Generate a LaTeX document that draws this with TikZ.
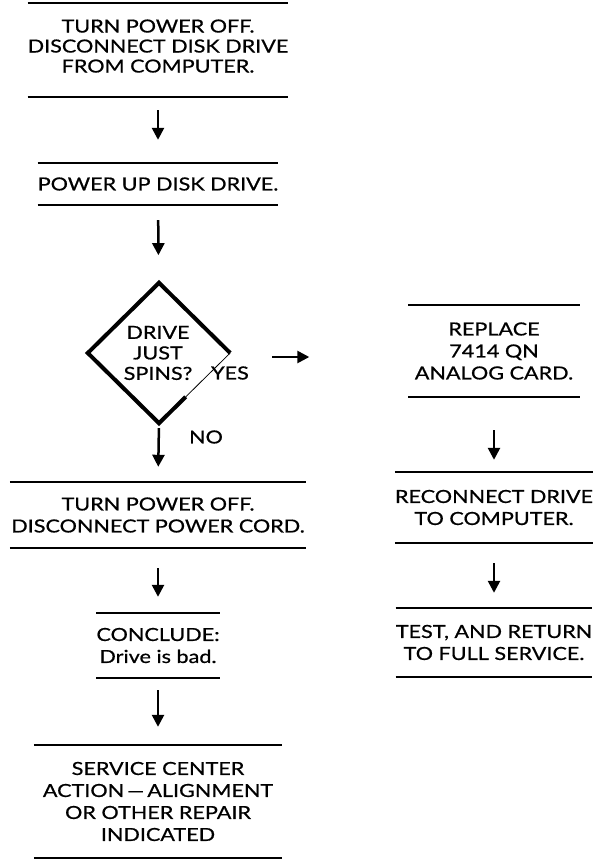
\documentclass[tikz,border=0pt]{standalone}
\usepackage{fontspec}
\setmainfont{Lato}[FakeStretch=1.2, FakeBold=0.7]
\usetikzlibrary{arrows.meta,shapes.geometric,calc}
\begin{document}
\begin{tikzpicture}[x=1pt,y=-1pt,
  every node/.style={font=\fontsize{18}{22}\selectfont, inner sep=0pt},
  stepbox/.style={rectangle, minimum width=#1, align=center},
  rule/.style={line width=2.2pt},
  arr/.style={line width=2.5pt, -{Triangle[length=12pt,width=12pt]}},
  dia/.style={line width=4pt, line join=miter}]
\useasboundingbox (0,0) rectangle (604,864);

% left column
\node[stepbox=259, minimum height=94, text depth=8pt, font=\fontsize{18}{20}\selectfont] (b1) at (158,50)
  {TURN POWER OFF.\\DISCONNECT DISK DRIVE\\FROM COMPUTER.};
\node[stepbox=240, minimum height=42] (b2) at (158,184) {POWER UP DISK DRIVE.};
\node[shape=diamond, minimum width=142, minimum height=140] (d) at (159,353) {};
\node[align=center, font=\fontsize{18}{20.5}\selectfont] (dt) at (158,353) {DRIVE\\JUST\\SPINS?};
\node (yes) at (230,373) {YES};
\node (no) at (206,437) {NO};
\node[stepbox=296, minimum height=66] (b3) at (158,515) {TURN POWER OFF.\\DISCONNECT POWER CORD.};
\node[stepbox=123, minimum height=65] (b4) at (158,645.5) {CONCLUDE:\\Drive is bad.};
\node[stepbox=248, minimum height=113] (b5) at (158,801.5)
  {SERVICE CENTER\\ACTION\,---\,ALIGNMENT\\OR OTHER REPAIR\\INDICATED};

% right column
\node[stepbox=171, minimum height=92] (r1) at (494,351) {REPLACE\\7414 QN\\ANALOG CARD.};
\node[stepbox=195, minimum height=71] (r2) at (494,507.5) {RECONNECT DRIVE\\TO COMPUTER.};
\node[stepbox=195, minimum height=69] (r3) at (494,642.5) {TEST, AND RETURN\\TO FULL SERVICE.};

% rules
\foreach \n in {b1,b2,b3,b4,b5,r1,r2,r3}{
  \draw[rule] (\n.north west) -- (\n.north east);
  \draw[rule] (\n.south west) -- (\n.south east);
}

% diamond outline
\draw[dia] (d.east) -- (d.north) -- (d.west) -- (d.south) -- ($(d.south)!0.375!(d.east)$);
\draw[line width=0.8pt] ($(d.south)!0.375!(d.east)$) -- (d.east);

% arrows
\draw[arr, shorten <=13pt, shorten >=23pt] (b1) -- (b2);
\draw[arr, shorten <=15pt, shorten >=28pt] (b2) -- (d);
\draw[arr, shorten <=5pt, shorten >=15pt] (d.south) -- (b3.north);
\draw[arr, shorten <=20pt, shorten >=16pt] (b3) -- (b4);
\draw[arr, shorten <=12pt, shorten >=18pt] (b4) -- (b5);
\draw[arr, shorten <=42pt, shorten >=99pt] ([yshift=-4pt]d.east) -- ([yshift=-4pt]d.east -| r1.west);
\draw[arr, shorten <=33pt, shorten >=12pt] (r1) -- (r2);
\draw[arr, shorten <=20pt, shorten >=15pt] (r2) -- (r3);
\end{tikzpicture}
\end{document}
